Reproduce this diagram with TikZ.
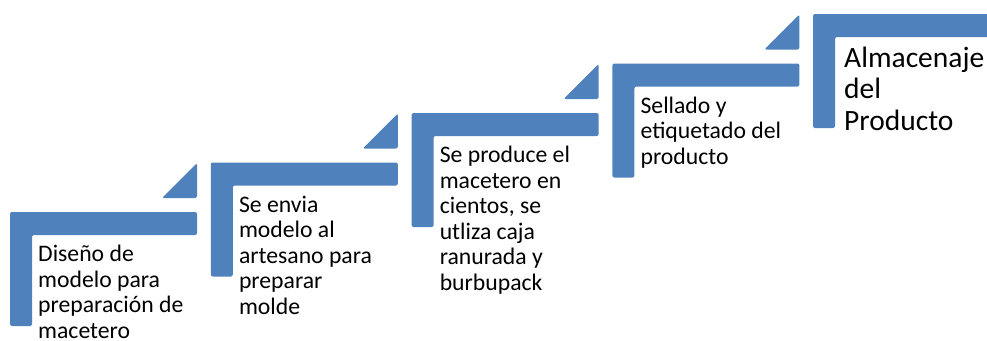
\documentclass[tikz,border=0pt]{standalone}
\usepackage{fontspec}
\setmainfont{Carlito}
\definecolor{stepblue}{HTML}{4F81BD}
\tikzset{
  stepshape/.style={fill=stepblue, draw=none, rounded corners=2pt},
  steptext/.style={anchor=north west, inner sep=0pt, align=left, text=black,
    font=\fontsize{23.7}{25.5}\selectfont},
  bigtext/.style={anchor=north west, inner sep=0pt, align=left, text=black,
    font=\fontsize{29.5}{31.3}\selectfont}
}
\begin{document}
\begin{tikzpicture}[x=1pt,y=-1pt]
\useasboundingbox (0,0) rectangle (987,340);
\foreach \i in {0,1,2,3} {
  \pgfmathsetmacro{\xo}{10+200.8*\i}
  \pgfmathsetmacro{\yo}{212-49.5*\i}
  \fill[stepshape] (\xo,\yo) -- ++(187,0) -- ++(0,23) -- ++(-165,0) -- ++(0,91) -- ++(-22,0) -- cycle;
  \fill[stepshape] (\xo+152,\yo-14) -- (\xo+187,\yo-14) -- (\xo+187,\yo-49) -- cycle;
}
\fill[stepshape] (813,14) -- (990,14) -- (990,37) -- (835,37) -- (835,128) -- (813,128) -- cycle;
\node[steptext] (t1) at (38,243.6) {\strut Diseño de\\modelo para\\preparación de\\macetero};
\node[steptext] (t2) at (238.8,194.1) {\strut Se envia\\modelo al\\artesano para\\preparar\\molde};
\node[steptext] (t3) at (439.6,144.6) {\strut Se produce el\\macetero en\\cientos, se\\utliza caja\\ranurada y\\burbupack};
\node[steptext] (t4) at (640.4,95.1) {\strut Sellado y\\etiquetado del\\producto};
\node[bigtext] (t5) at (844,45.4) {\strut Almacenaje\\del\\Producto};
\end{tikzpicture}
\end{document}
